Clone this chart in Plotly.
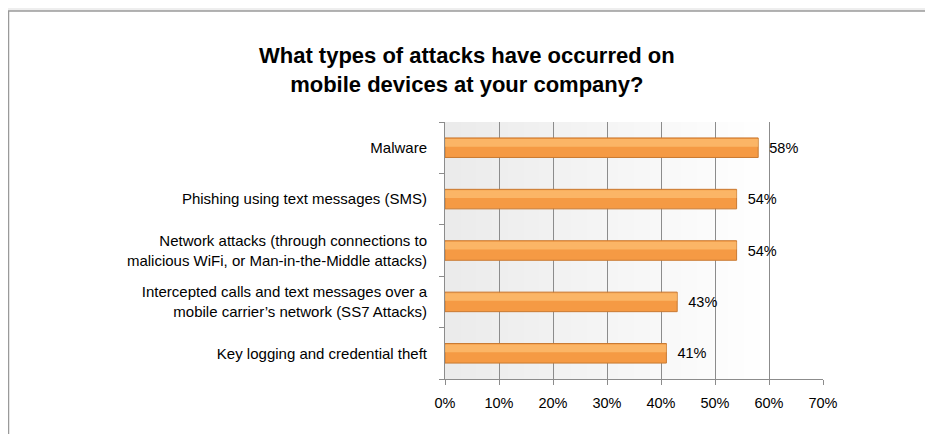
import plotly.graph_objects as go

# survey answers, top to bottom as shown
attacks = [
    "Malware",
    "Phishing using text messages (SMS)",
    "Network attacks (through connections to<br>malicious WiFi, or Man-in-the-Middle attacks)",
    "Intercepted calls and text messages over a<br>mobile carrier\u2019s network (SS7 Attacks)",
    "Key logging and credential theft",
]
share = [0.58, 0.54, 0.54, 0.43, 0.41]
labels = ["58%", "54%", "54%", "43%", "41%"]
x_ticks = [0, 0.1, 0.2, 0.3, 0.4, 0.5, 0.6, 0.7]
x_ticktext = ["0%", "10%", "20%", "30%", "40%", "50%", "60%", "70%"]

# the page body adds an 8px margin, so the figure is a bit smaller than the window
W, H = 925, 426
L, R, T, B = 437, 110, 114, 55
FONT = "Liberation Sans"
FS = 14.5


def px_x(p):
    # figure pixel -> paper x
    return (p - L) / (W - L - R)


def px_y(p):
    return (H - B - p) / (H - T - B)


shapes = []
# white chart frame on grey page
shapes.append(dict(type="rect", xref="paper", yref="paper", layer="below",
                   x0=px_x(0.5), x1=px_x(W + 20), y0=px_y(H + 20), y1=px_y(3),
                   fillcolor="white", line=dict(color="#9a9a9a", width=1.5)))
# soft grey-to-white gradient in the plot area
steps = 24
for i in range(steps):
    g = min(255, int(235 + (255 - 235) * i / (steps * 0.8)))
    shapes.append(dict(type="rect", xref="x domain", yref="y domain", layer="below",
                       x0=i / steps, x1=(i + 1) / steps + 0.002, y0=0, y1=1,
                       fillcolor=f"rgb({g},{g},{g})", line=dict(width=0)))

fig = go.Figure()
fig.add_trace(go.Bar(
    y=attacks, x=share, orientation="h", width=0.38,
    marker=dict(color="#F59A44", line=dict(color="#C97A32", width=1)),
    text=["  " + t for t in labels], textposition="outside",
    textfont=dict(family=FONT, size=FS, color="#000"),
    cliponaxis=False, hoverinfo="skip",
))
# lighter highlight along the top of each bar
fig.add_trace(go.Bar(
    y=attacks, x=share, orientation="h", width=0.15, offset=0.02,
    marker=dict(color="rgba(255,200,125,0.6)", line=dict(width=0)),
    hoverinfo="skip",
))

fig.update_layout(
    width=W, height=H,
    margin=dict(l=L, r=R, t=T, b=B, autoexpand=False),
    paper_bgcolor="#eeeeee", plot_bgcolor="rgba(0,0,0,0)",
    showlegend=False, barmode="overlay",
    shapes=shapes,
    title=dict(
        text="<b>What types of attacks have occurred on<br>mobile devices at your company?</b>",
        x=0.496, xanchor="center", xref="container",
        y=1 - 55 / H, yanchor="middle", yref="container",
        font=dict(family=FONT, size=22, color="#000"),
    ),
    font=dict(family=FONT, size=FS, color="#000"),
)
fig.update_xaxes(
    range=[0, 0.7], tickvals=x_ticks, ticktext=x_ticktext,
    showgrid=True, gridcolor="#8c8c8c", gridwidth=1,
    showline=True, linecolor="#8c8c8c", linewidth=1,
    ticks="outside", ticklen=5, tickcolor="#8c8c8c",
    tickfont=dict(family=FONT, size=FS), zeroline=False,
    ticklabelstandoff=6,
)
fig.update_yaxes(
    type="category", categoryorder="array", categoryarray=attacks[::-1],
    tickson="boundaries", ticks="outside", ticklen=5, tickcolor="#8c8c8c",
    showline=True, linecolor="#8c8c8c", linewidth=1, showgrid=False,
    tickfont=dict(family=FONT, size=15), ticklabelstandoff=14,
)

fig.write_html("out.html")
